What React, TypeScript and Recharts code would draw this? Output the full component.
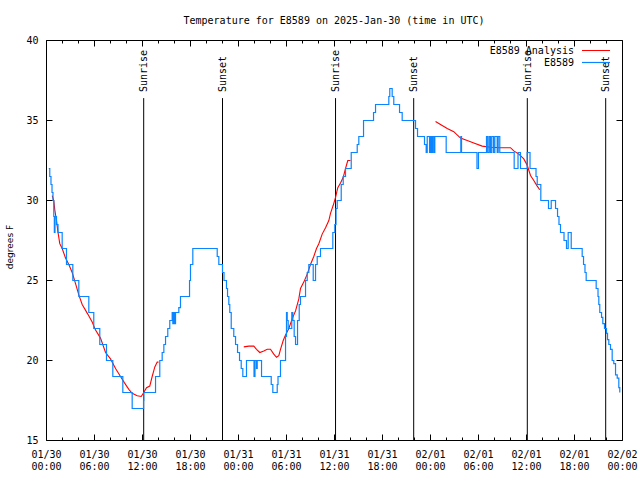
import React from 'react';
import { LineChart, Line, XAxis, YAxis, ReferenceLine, ReferenceDot } from 'recharts';

const MONO = '"DejaVu Sans Mono", monospace';
const BLUE = '#0a84ff';
const RED = '#ff0000';

// x values are hours since 2025-01-30 00:00 UTC, temps in degrees F
const obs: [number, number][] = [
  [0.29, 32], [0.41, 31.5], [0.56, 31], [0.69, 30.5], [0.81, 30], [0.91, 29], [0.98, 28], [1.06, 29],
  [1.25, 28.5], [1.44, 28], [1.96, 27], [2.5, 26], [3.29, 25], [4.04, 24], [5.29, 23], [5.91, 22],
  [6.66, 21], [7.5, 20], [8.29, 19], [9.54, 18], [10.71, 17], [12.13, 17.5], [12.16, 18], [13.63, 19],
  [14.16, 20], [14.46, 20.5], [14.67, 21], [14.88, 21.5], [15.16, 22], [15.41, 22.5], [15.71, 23], [15.79, 22.3],
  [15.91, 23], [16.0, 22.3], [16.13, 23], [16.54, 23.3], [16.75, 24], [17.88, 25], [18.0, 26], [18.29, 27],
  [21.34, 26.5], [21.54, 26], [22.0, 25.5], [22.19, 25], [22.5, 24.5], [22.63, 24], [22.79, 23.5], [22.91, 23],
  [23.09, 22], [23.41, 21.5], [23.63, 21], [23.88, 20.5], [24.13, 20], [24.34, 19.5], [24.54, 19], [25.0, 20],
  [25.94, 19], [26.06, 20], [26.25, 19.5], [26.34, 20], [26.88, 19], [28.09, 18.5], [28.29, 18], [28.84, 18.5],
  [28.94, 19], [29.25, 20], [29.88, 21.5], [30.0, 23], [30.09, 22.5], [30.21, 22], [30.66, 23], [30.79, 22.5],
  [30.96, 21.5], [31.13, 21], [31.38, 22.5], [31.59, 23.5], [31.75, 24], [32.38, 25], [32.59, 25.5], [32.79, 26],
  [33.34, 25], [33.63, 26], [33.84, 26.5], [34.25, 27], [35.79, 28], [36.04, 28.5], [36.19, 29.5], [36.34, 30],
  [36.84, 31], [37.09, 31.5], [37.38, 32], [38.09, 33], [38.84, 33.5], [39.04, 34], [39.63, 35], [40.88, 35.5],
  [41.13, 36], [42.79, 36.5], [42.91, 37], [43.21, 36.5], [43.41, 36], [44.13, 35.5], [44.46, 35], [46.13, 34.5],
  [46.38, 34], [47.25, 33.5], [47.46, 33], [47.59, 34], [47.88, 33], [48.0, 34], [48.13, 33], [48.25, 34],
  [48.41, 33], [48.54, 34], [49.96, 33], [51.79, 34], [51.88, 33], [53.81, 32], [54.0, 33], [55.0, 34],
  [55.16, 33], [55.34, 34], [55.5, 33], [55.66, 34], [55.88, 33], [56.04, 34], [56.34, 33], [56.46, 34],
  [56.66, 33], [58.46, 32], [58.94, 33], [59.25, 32], [60.09, 33], [60.44, 32], [61.19, 31.5], [61.34, 31],
  [61.79, 30], [62.75, 29.5], [63.09, 30], [63.63, 29.5], [63.88, 29], [64.06, 28.5], [64.25, 28], [64.69, 27.5],
  [65.0, 27], [65.21, 28], [65.59, 27], [66.96, 26.5], [67.13, 26], [67.31, 25.5], [67.46, 25], [68.71, 24.5],
  [68.94, 24], [69.04, 23.5], [69.16, 23], [69.38, 22.7], [69.54, 22.3], [69.75, 22], [70.0, 21.7], [70.13, 21.3],
  [70.29, 21], [70.5, 20.7], [70.71, 20], [70.91, 19.8], [71.13, 19.1], [71.34, 18.9], [71.54, 18.3], [71.66, 18],
];

// analysis comes in three pieces with gaps between them
const anaSeg1: [number, number][] = [
  [0.71, 30.3], [0.91, 30.0], [1.04, 29.4], [1.25, 28.75], [1.41, 28.1], [1.66, 27.3], [1.96, 27.0], [2.38, 26.4],
  [2.79, 26.0], [3.21, 25.5], [3.63, 24.8], [4.04, 24.1], [4.46, 23.5], [5.16, 22.9], [5.71, 22.4], [6.13, 21.9],
  [6.75, 21.4], [7.38, 20.5], [8.0, 20.1], [8.63, 19.5], [9.25, 19.0], [9.75, 18.6], [10.29, 18.2], [10.71, 17.95],
  [11.34, 17.8], [11.84, 17.75], [12.16, 18.0], [12.5, 18.3], [12.91, 18.4], [13.21, 19.0], [13.54, 19.6], [13.84, 19.9],
  [14.0, 19.9],
];
const anaSeg2: [number, number][] = [
  [24.66, 20.85], [25.29, 20.9], [25.91, 20.9], [26.25, 20.7], [26.66, 20.5], [27.16, 20.6], [27.59, 20.7], [28.0, 20.7],
  [28.41, 20.4], [28.75, 20.2], [29.04, 20.3], [29.25, 20.7], [29.59, 21.25], [29.88, 21.6], [30.29, 22.0], [30.71, 22.6],
  [31.13, 23.1], [31.54, 23.85], [31.75, 24.5], [32.16, 24.9], [32.59, 25.4], [33.0, 26.0], [33.41, 26.5], [33.75, 27.0],
  [34.04, 27.3], [34.46, 27.9], [34.88, 28.3], [35.29, 28.75], [35.5, 29.2], [35.84, 29.7], [36.13, 30.2], [36.41, 30.8],
  [36.75, 31.1], [37.09, 31.45], [37.38, 32.0], [37.66, 32.5], [38.0, 32.5],
];
const anaSeg3: [number, number][] = [
  [48.63, 34.94], [49.25, 34.75], [50.09, 34.5], [50.91, 34.3], [51.75, 33.9], [52.59, 33.75], [53.41, 33.6], [54.46, 33.4],
  [55.5, 33.33], [56.75, 33.3], [58.0, 33.3], [58.41, 33.1], [59.04, 32.9], [59.66, 32.6], [60.09, 32.2], [60.5, 31.56],
  [60.91, 31.25], [61.34, 30.9], [61.66, 30.67],
];

const sunHours = [12.15, 22.0, 36.13, 45.9, 60.1, 69.9];
const sunLabels = ['Sunrise', 'Sunset', 'Sunrise', 'Sunset', 'Sunrise', 'Sunset'];

const xTickHours = Array.from({ length: 37 }, (_, i) => i * 2);
const majorHours = [0, 6, 12, 18, 24, 30, 36, 42, 48, 54, 60, 66, 72];
const majorDates = ['01/30', '01/30', '01/30', '01/30', '01/31', '01/31', '01/31', '01/31', '02/01', '02/01', '02/01', '02/01', '02/02'];
const majorTimes = ['00:00', '06:00', '12:00', '18:00', '00:00', '06:00', '12:00', '18:00', '00:00', '06:00', '12:00', '18:00', '00:00'];
const yTicks = [15, 20, 25, 30, 35, 40];

const obsData = obs.map(([h, v]) => ({ h, v }));
const anaData = [anaSeg1, anaSeg2, anaSeg3].flatMap((seg, i) => [
  ...(i > 0 ? [{ h: seg[0][0] - 0.01, v: null as number | null }] : []),
  ...seg.map(([h, v]) => ({ h, v: v as number | null })),
]);

const SUN_TOP = 36.4;

const BottomTick = (props: any) => {
  const { x, y, payload } = props;
  const i = majorHours.indexOf(payload.value);
  return (
    <g>
      <line x1={x} x2={x} y1={y} y2={y - (i >= 0 ? 6 : 3)} stroke="#000" />
      {i >= 0 && (
        <text x={x} y={y + 17.5} textAnchor="middle" fontFamily={MONO} fontSize={10} fill="#000">
          <tspan x={x}>{majorDates[i]}</tspan>
          <tspan x={x} dy={12}>{majorTimes[i]}</tspan>
        </text>
      )}
    </g>
  );
};

const TopTick = (props: any) => {
  const { x, y, payload } = props;
  const major = majorHours.includes(payload.value);
  return <line x1={x} x2={x} y1={y} y2={y + (major ? 6 : 3)} stroke="#000" />;
};

const LeftTick = (props: any) => {
  const { x, y, payload } = props;
  return (
    <g>
      <line x1={x} x2={x + 6} y1={y} y2={y} stroke="#000" />
      <text x={x - 8} y={y} dy="0.35em" textAnchor="end" fontFamily={MONO} fontSize={10} fill="#000">
        {payload.value}
      </text>
    </g>
  );
};

const RightTick = (props: any) => {
  const { x, y } = props;
  return <line x1={x} x2={x - 6} y1={y} y2={y} stroke="#000" />;
};

const SunLabel = (label: string) => (p: any) => (
  <text
    transform={`translate(${p.cx} ${p.cy - 6}) rotate(-90)`}
    dy="0.35em"
    fontFamily={MONO}
    fontSize={10}
    fill="#000"
  >
    {label}
  </text>
);

export default function App() {
  return (
    <div style={{ position: 'absolute', left: 0, top: 0, width: 640, height: 480, background: '#fff' }}>
      <LineChart width={640} height={480} margin={{ top: 39.5, right: 16.5, bottom: 0, left: 0 }}>
        <XAxis
          xAxisId="b"
          type="number"
          dataKey="h"
          domain={[0, 72]}
          ticks={xTickHours}
          interval={0}
          allowDataOverflow
          height={39.5}
          tickSize={0}
          tickMargin={0}
          tickLine={false}
          axisLine={{ stroke: '#000' }}
          tick={<BottomTick />}
        />
        <XAxis
          xAxisId="t"
          orientation="top"
          type="number"
          dataKey="h"
          domain={[0, 72]}
          ticks={xTickHours}
          interval={0}
          allowDataOverflow
          height={1}
          tickSize={0}
          tickMargin={0}
          tickLine={false}
          axisLine={{ stroke: '#000' }}
          tick={<TopTick />}
        />
        <YAxis
          yAxisId="l"
          type="number"
          domain={[15, 40]}
          ticks={yTicks}
          interval={0}
          allowDataOverflow
          width={46.5}
          tickSize={0}
          tickMargin={0}
          tickLine={false}
          axisLine={{ stroke: '#000' }}
          tick={<LeftTick />}
        />
        <YAxis
          yAxisId="r"
          orientation="right"
          type="number"
          domain={[15, 40]}
          ticks={yTicks}
          interval={0}
          allowDataOverflow
          width={1}
          tickSize={0}
          tickMargin={0}
          tickLine={false}
          axisLine={{ stroke: '#000' }}
          tick={<RightTick />}
        />
        {sunHours.map((h, i) => (
          <ReferenceLine
            key={'l' + i}
            xAxisId="b"
            yAxisId="l"
            segment={[{ x: h, y: 15 }, { x: h, y: SUN_TOP }]}
            stroke="#000"
            strokeWidth={1}
          />
        ))}
        {sunHours.map((h, i) => (
          <ReferenceDot key={'d' + i} xAxisId="b" yAxisId="l" x={h} y={SUN_TOP} r={0} shape={SunLabel(sunLabels[i])} />
        ))}
        <Line
          xAxisId="b"
          yAxisId="l"
          data={anaData}
          dataKey="v"
          type="linear"
          stroke={RED}
          strokeWidth={1.1}
          dot={false}
          activeDot={false}
          connectNulls={false}
          isAnimationActive={false}
        />
        <Line
          xAxisId="b"
          yAxisId="l"
          data={obsData}
          dataKey="v"
          type="stepAfter"
          stroke={BLUE}
          strokeWidth={1.2}
          dot={false}
          activeDot={false}
          isAnimationActive={false}
        />
      </LineChart>
      <svg width={640} height={480} style={{ position: 'absolute', left: 0, top: 0, pointerEvents: 'none' }}>
        <text x={334} y={24} textAnchor="middle" fontFamily={MONO} fontSize={10} fill="#000">
          Temperature for E8589 on 2025-Jan-30 (time in UTC)
        </text>
        <text transform="translate(13 247) rotate(-90)" textAnchor="middle" fontFamily='"DejaVu Sans", sans-serif' fontSize={9} fill="#000">
          degrees F
        </text>
        <text x={574} y={50} dy="0.35em" textAnchor="end" fontFamily={MONO} fontSize={10} fill="#000">E8589 Analysis</text>
        <line x1={582} x2={610} y1={50.5} y2={50.5} stroke={RED} strokeWidth={1} />
        <text x={574} y={62} dy="0.35em" textAnchor="end" fontFamily={MONO} fontSize={10} fill="#000">E8589</text>
        <line x1={582} x2={610} y1={62.5} y2={62.5} stroke={BLUE} strokeWidth={1.2} />
      </svg>
    </div>
  );
}
